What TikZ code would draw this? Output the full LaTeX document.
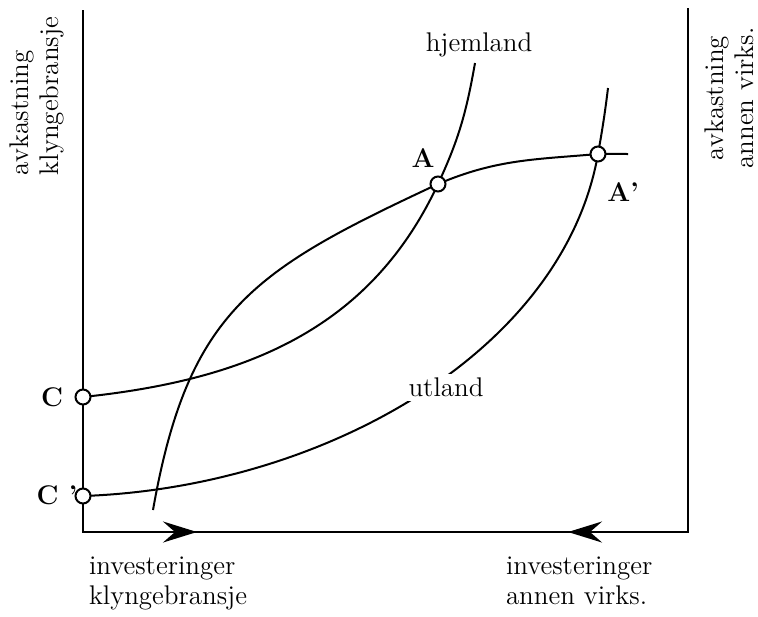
\documentclass[tikz,border=0pt]{standalone}
\usepackage{tikz}
\usetikzlibrary{arrows.meta}

\begin{document}
\begin{tikzpicture}[x=0.5pt, y=-0.5pt, line width=1pt,
    dot/.style={draw, circle, fill=white, inner sep=0pt, minimum size=7.5pt, line width=1pt},
    ptlabel/.style={font=\fontsize{13.5}{15}\selectfont\bfseries, inner sep=0pt},
    txt/.style={font=\fontsize{13.5}{15}\selectfont, inner sep=0pt},
    axis/.style={line width=1.3pt},
    midarrow/.style={axis, -{Stealth[length=17pt, width=10.5pt, inset=6pt]}}]

    \useasboundingbox (0,0) rectangle (758,616);

    % axes
    \coordinate (ytop) at (83,10);
    \coordinate (orig) at (83,532);
    \coordinate (xend) at (688,532);
    \coordinate (rtop) at (688,8);
    \coordinate (arrR) at (197,532);
    \coordinate (arrL) at (568,532);

    \draw[axis] (ytop) -- (orig) -- (xend) -- (rtop);
    \draw[midarrow] (orig) -- (arrR);
    \draw[midarrow] (xend) -- (arrL);

    % points on the curves
    \coordinate (pC) at (83,397);
    \coordinate (pCp) at (83,496);
    \coordinate (pA) at (438,184);
    \coordinate (pAp) at (598,154);
    \coordinate (hjTop) at (475,63);
    \coordinate (ulTop) at (608,88);
    \coordinate (kBot) at (153,510);
    \coordinate (kEnd) at (628,154);

    % hjemland
    \draw (pC) to[out=6, in=-115] (pA) to[out=65, in=-100] (hjTop);
    % the other one through A and A'
    \draw (kBot) to[out=80, in=205, looseness=1.2] (pA) to[out=23, in=185] (pAp) to[out=2, in=180] (kEnd);
    % utland
    \draw (pCp) to[out=2, in=-100, in looseness=0.83] (pAp) to[out=80, in=-97] (ulTop);

    \node[dot] (C) at (pC) {};
    \node[dot] (Cp) at (pCp) {};
    \node[dot] (A) at (pA) {};
    \node[dot] (Ap) at (pAp) {};

    \node[ptlabel] (labC) at (52,397) {C};
    \node[ptlabel] (labCp) at (57,495) {C '};
    \node[ptlabel] (labA) at (423,158) {A};
    \node[ptlabel] (labAp) at (623,192) {A'};

    \node[txt] (hjem) at (479,45) {hjemland};
    \node[txt, fill=white, inner sep=2pt] (utl) at (446,387) {utland};

    \node[txt, rotate=90, align=left] (ylabL) at (37,96) {avkastning\\klyngebransje};
    \node[txt, rotate=90, align=center] (ylabR) at (729,98) {avkastning\\annen virks.};
    \node[txt, anchor=north west, align=left] (xlabL) at (88,556) {investeringer\\klyngebransje};
    \node[txt, anchor=north west, align=left] (xlabR) at (505,556) {investeringer\\annen virks.};
\end{tikzpicture}
\end{document}
